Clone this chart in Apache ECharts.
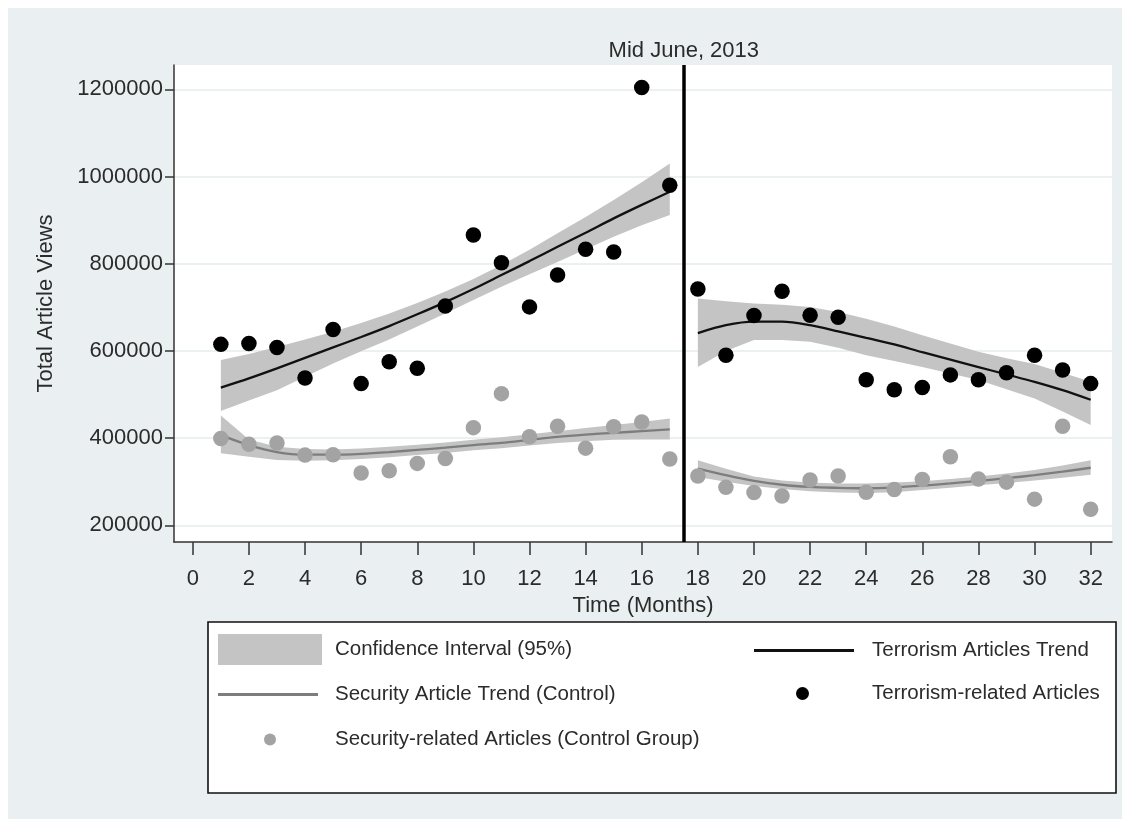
<!DOCTYPE html>
<html><head><meta charset="utf-8">
<script src="https://cdn.jsdelivr.net/npm/echarts@6/dist/echarts.min.js"></script>
<style>html,body{margin:0;padding:0;background:#fff}#c{width:1130px;height:827px}</style>
</head><body><div id="c"></div><script>
// ---- data ----
const preMonths  = [1,2,3,4,5,6,7,8,9,10,11,12,13,14,15,16,17];
const postMonths = [18,19,20,21,22,23,24,25,26,27,28,29,30,31,32];

const terrorPre  = [615000,617000,608000,538000,649000,525000,575000,560000,703000,866000,802000,701000,774000,833000,827000,1204000,980000];
const terrorPost = [742000,590000,681000,737000,682000,677000,534000,511000,516000,545000,534000,550000,590000,556000,525000];
const securityPre  = [399000,386000,389000,361000,362000,320000,325000,342000,353000,424000,502000,403000,427000,377000,426000,437000,352000];
const securityPost = [313000,287000,275000,267000,304000,313000,276000,282000,305000,357000,306000,299000,260000,427000,237000];

const terrorTrendPre  = [516000,537000,560000,584000,608000,632000,657000,684000,712000,742000,774000,806000,839000,871000,904000,935000,965000];
const terrorCiHighPre = [579000,593000,609000,626000,644000,664000,686000,710000,736000,765000,797000,832000,870000,907000,946000,987000,1030000];
const terrorCiLowPre  = [462000,486000,510000,541000,571000,599000,626000,656000,686000,717000,747000,776000,804000,833000,862000,888000,912000];

const securityTrendPre  = [407000,384000,368000,362000,362000,364000,368000,373000,378000,384000,389000,396000,403000,408000,412000,416000,420000];
const securityCiHighPre = [452000,397000,380000,375000,374000,376000,380000,385000,390000,396000,402000,409000,416000,423000,430000,437000,445000];
const securityCiLowPre  = [365000,357000,350000,348000,349000,352000,356000,361000,366000,372000,377000,383000,389000,393000,396000,397000,397000];

const terrorTrendPost  = [641000,659000,667000,667000,659000,645000,630000,615000,597000,580000,563000,546000,529000,510000,488000];
const terrorCiHighPost = [720000,714000,709000,706000,701000,689000,674000,656000,636000,617000,598000,583000,570000,550000,529000];
const terrorCiLowPost  = [563000,600000,625000,625000,621000,607000,590000,577000,563000,548000,533000,512000,491000,461000,430000];

const securityTrendPost  = [330000,315000,302000,293000,288000,286000,285000,287000,291000,296000,302000,308000,315000,323000,332000];
const securityCiHighPost = [349000,330000,312000,303000,298000,296000,296000,298000,301000,306000,312000,319000,327000,337000,349000];
const securityCiLowPost  = [311000,300000,290000,283000,278000,275000,274000,276000,281000,286000,292000,297000,303000,309000,316000];

const yTicks = [200000,400000,600000,800000,1000000,1200000];
const xTicks = [0,2,4,6,8,10,12,14,16,18,20,22,24,26,28,30,32];
const breakMonth = 17.5;
const breakLabel = 'Mid June, 2013';

const N_CI = 'Confidence Interval (95%)';
const N_TT = 'Terrorism Articles Trend';
const N_ST = 'Security Article Trend (Control)';
const N_TA = 'Terrorism-related Articles';
const N_SA = 'Security-related Articles (Control Group)';

// ---- styles ----
const FONT = 'Liberation Sans, Arial, sans-serif';
const TXT = '#2b2b2b';
const BAND = '#c4c4c4';
const SEC_LINE = '#7d7d7d';
const SEC_DOT = '#a3a3a3';
const FS = 22;
const LFS = 20.5;

const zip = (xs, ys) => xs.map((x, i) => [x, ys[i]]);

function band(xs, lo, hi) {
  return {
    type: 'custom', name: N_CI, z: 1, silent: true,
    itemStyle: { color: BAND },
    data: xs.map((x, i) => [x, lo[i], hi[i]]),
    encode: { x: 0, y: [1, 2] },
    renderItem: function (params, api) {
      if (params.dataIndex !== 0) return null;
      const pts = [];
      for (let i = 0; i < xs.length; i++) pts.push(api.coord([xs[i], hi[i]]));
      for (let i = xs.length - 1; i >= 0; i--) pts.push(api.coord([xs[i], lo[i]]));
      return { type: 'polygon', shape: { points: pts }, style: { fill: BAND } };
    }
  };
}
function trend(name, xs, ys, color) {
  return { type: 'line', name, z: 3, data: zip(xs, ys), smooth: 0.3, showSymbol: false,
    symbol: 'none', lineStyle: { color, width: 2.3 }, itemStyle: { color }, silent: true };
}
function dots(name, xs, ys, color, z) {
  return { type: 'scatter', name, z, data: zip(xs, ys), symbolSize: 15.5,
    itemStyle: { color, opacity: 1 }, silent: true };
}

const series = [
  band(preMonths, terrorCiLowPre, terrorCiHighPre),
  band(postMonths, terrorCiLowPost, terrorCiHighPost),
  band(preMonths, securityCiLowPre, securityCiHighPre),
  band(postMonths, securityCiLowPost, securityCiHighPost),
  trend(N_TT, preMonths, terrorTrendPre, '#111'),
  trend(N_TT, postMonths, terrorTrendPost, '#111'),
  trend(N_ST, preMonths, securityTrendPre, SEC_LINE),
  trend(N_ST, postMonths, securityTrendPost, SEC_LINE),
  dots(N_SA, preMonths, securityPre, SEC_DOT, 4),
  dots(N_SA, postMonths, securityPost, SEC_DOT, 4),
  dots(N_TA, preMonths, terrorPre, '#000', 5),
  dots(N_TA, postMonths, terrorPost, '#000', 5),
  { type: 'line', name: '_break', data: [], z: 6, silent: true,
    markLine: { symbol: 'none', silent: true, animation: false,
      lineStyle: { color: '#000', width: 3.5, type: 'solid' },
      label: { show: true, position: 'end', formatter: breakLabel, color: TXT,
        fontFamily: FONT, fontSize: FS, distance: 3 },
      data: [{ xAxis: breakMonth }] } }
];

function leg(name, left, top, icon, w, h, pad, extra) {
  return Object.assign({ show: true, data: [{ name, icon }], left, top, itemWidth: w, itemHeight: h,
    selectedMode: false, padding: 0,
    textStyle: { color: TXT, fontFamily: FONT, fontSize: LFS, padding: [0, 0, 0, pad] } }, extra || {});
}

const option = {
  animation: false,
  backgroundColor: '#ffffff',
  graphic: [
    { type: 'rect', z: -10, shape: { x: 8, y: 8, width: 1114, height: 811 }, style: { fill: '#eaf0f2' } },
    { type: 'rect', z: -9, shape: { x: 208, y: 622, width: 908, height: 171 },
      style: { fill: '#ffffff', stroke: '#111', lineWidth: 1.6 } }
  ],
  grid: { left: 174, right: 18, top: 65, bottom: 285, show: true, backgroundColor: '#ffffff', borderWidth: 0 },
  xAxis: {
    type: 'value', min: -0.67, max: 32.76,
    name: 'Time (Months)', nameLocation: 'middle', nameGap: 51,
    nameTextStyle: { color: TXT, fontFamily: FONT, fontSize: FS },
    axisLine: { show: true, onZero: false, lineStyle: { color: '#333', width: 1.5 } },
    axisTick: { show: true, length: 13, lineStyle: { color: '#333', width: 1.5 }, customValues: xTicks },
    axisLabel: { color: TXT, fontFamily: FONT, fontSize: FS, margin: 26, customValues: xTicks },
    splitLine: { show: false }
  },
  yAxis: {
    type: 'value', min: 161700, max: 1255800,
    name: 'Total Article Views', nameLocation: 'middle', nameGap: 117,
    nameTextStyle: { color: TXT, fontFamily: FONT, fontSize: FS },
    axisLine: { show: true, onZero: false, lineStyle: { color: '#333', width: 1.5 } },
    axisTick: { show: true, length: 9, lineStyle: { color: '#333', width: 1.5 }, customValues: yTicks },
    axisLabel: { color: TXT, fontFamily: FONT, fontSize: FS, margin: 11, customValues: yTicks,
      formatter: v => String(v) },
    splitLine: { show: true, lineStyle: { color: '#e4ecef', width: 1.5 } }
  },
  legend: [
    leg(N_CI, 218, 634, 'rect', 104, 31, 8),
    leg(N_ST, 218, 684, 'rect', 100, 3, 12),
    leg(N_SA, 264, 729, 'circle', 12, 12, 54, { itemStyle: { color: SEC_DOT } }),
    leg(N_TT, 754, 640, 'rect', 100, 3, 13),
    leg(N_TA, 796, 683, 'circle', 13, 13, 58)
  ],
  series
};

const chart = echarts.init(document.getElementById('c'), null, { renderer: 'canvas' });
chart.setOption(option);
</script></body></html>
